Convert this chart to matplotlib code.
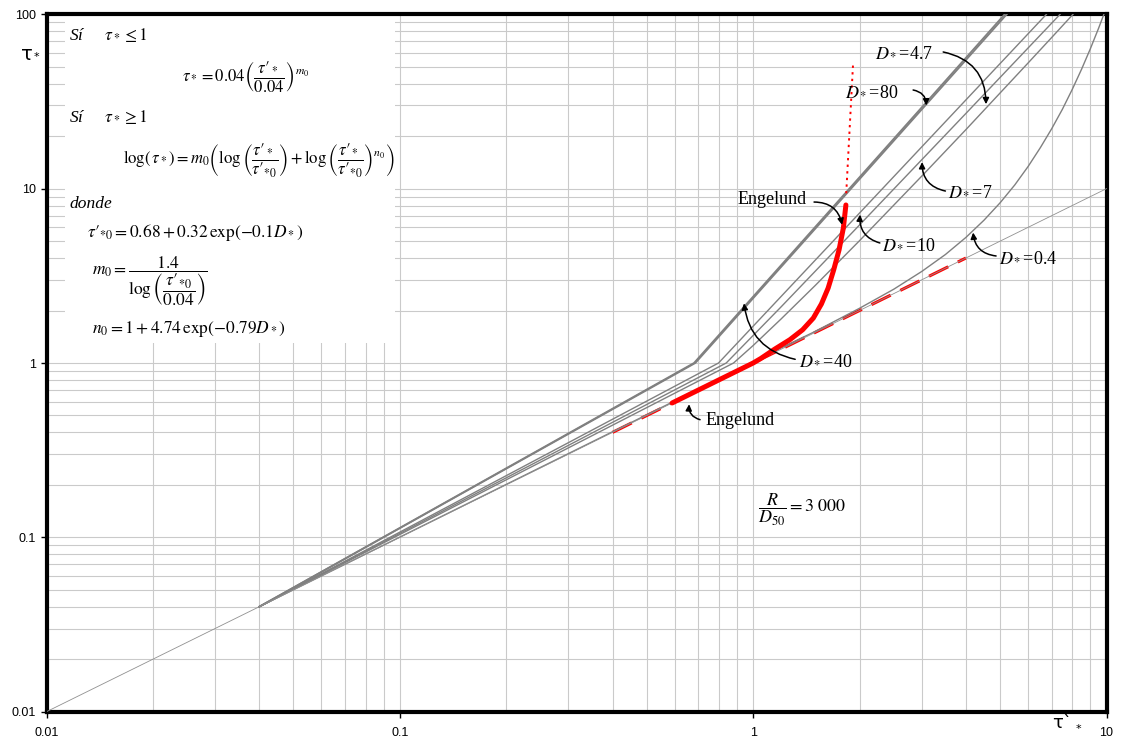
import matplotlib.pyplot as plt
from matplotlib.patches import Rectangle
from matplotlib.ticker import NullFormatter

plt.rcParams['mathtext.fontset'] = 'stix'
plt.rcParams['font.family'] = 'Liberation Serif'

# tau'_* (x) against tau_* (y) for each D_*, R/D50 = 3000
tp_d80 = [0.04, 0.680, 5.15]
ts_d80 = [0.04, 1.0, 100]
tp_d40 = [0.04, 0.686, 5.22]
ts_d40 = [0.04, 1.0, 100]
tp_d10 = [0.04, 0.798, 6.76]
ts_d10 = [0.04, 1.0, 100]
tp_d7 = [0.04, 0.839, 1.2, 2.0, 4.0, 7.39]
ts_d7 = [0.04, 1.0, 2.10, 6.19, 27.0, 100]
tp_d47 = [0.04, 0.88, 1.0, 1.2, 1.5, 2.0, 3.0, 4.0, 5.0, 6.0, 7.0, 8.04]
ts_d47 = [0.04, 1.0, 1.26, 1.79, 2.79, 5.03, 11.8, 21.8, 35.4, 52.6, 73.7, 100]
tp_d04 = [0.04, 0.988, 1.2, 1.5, 2.0, 2.5, 3.0, 3.5, 4.0, 4.5, 5.0, 5.5, 6.0,
          6.5, 7.0, 7.5, 8.0, 8.5, 9.0, 9.5, 9.83]
ts_d04 = [0.04, 1.0, 1.22, 1.52, 2.06, 2.65, 3.35, 4.19, 5.25, 6.59, 8.30, 10.5, 13.4,
          17.2, 22.1, 28.5, 37.1, 48.4, 63.4, 83.3, 100]

# tau_* = tau'_*
ident_tp = [0.01, 10]
ident_ts = [0.01, 10]

# Engelund
eng_tp = [0.59, 1.00, 1.05, 1.15, 1.27, 1.38, 1.48, 1.56, 1.63, 1.69, 1.75, 1.80, 1.83]
eng_ts = [0.59, 1.00, 1.06, 1.20, 1.36, 1.55, 1.81, 2.18, 2.69, 3.42, 4.45, 5.95, 8.06]
eng_up_tp = [0.40, 4.0]
eng_up_ts = [0.40, 4.0]
eng_dot_tp = [1.834, 1.918]
eng_dot_ts = [9.4, 52.6]

xticks = [0.01, 0.1, 1, 10]
xticklabels = ['0.01', '0.1', '1', '10']
yticks = [0.01, 0.1, 1, 10, 100]
yticklabels = ['0.01', '0.1', '1', '10', '100']

W, H = 1122, 740
fig = plt.figure(figsize=(W / 100, H / 100), dpi=100)
ax = fig.add_axes([46.5 / W, 1 - 711.7 / H, 1060 / W, 697.4 / H])
ax.set_xscale('log')
ax.set_yscale('log')
ax.set_xlim(0.01, 10)
ax.set_ylim(0.01, 100)
ax.set_axisbelow(True)
ax.grid(True, which='both', color='#cacaca', lw=0.8)

ax.set_xticks(xticks, labels=xticklabels)
ax.set_yticks(yticks, labels=yticklabels)
ax.xaxis.set_minor_formatter(NullFormatter())
ax.yaxis.set_minor_formatter(NullFormatter())
ax.tick_params(which='minor', length=0)
ax.tick_params(which='major', length=4, width=1, labelsize=9)
ax.tick_params(axis='x', pad=7)
for lab in ax.get_xticklabels() + ax.get_yticklabels():
    lab.set_family('Liberation Sans')
for sp in ax.spines.values():
    sp.set_linewidth(3)

# white panel behind the equations
ax.add_patch(Rectangle((0.0175, 0.529), 0.3113, 0.471, transform=ax.transAxes,
                       fc='white', ec='none', zorder=1))

gray = '#808080'
ax.plot(eng_up_tp, eng_up_ts, color='red', lw=2.2, dashes=(7, 3.5), zorder=3)
ax.plot(ident_tp, ident_ts, color='#909090', lw=0.6, zorder=4)
for tp, ts in [(tp_d80, ts_d80), (tp_d40, ts_d40)]:
    ax.plot(tp, ts, color=gray, lw=1.3, zorder=3)
for tp, ts in [(tp_d10, ts_d10), (tp_d7, ts_d7), (tp_d47, ts_d47), (tp_d04, ts_d04)]:
    ax.plot(tp, ts, color=gray, lw=1.0, zorder=3)
ax.plot(eng_tp, eng_ts, color='red', lw=3.6, solid_capstyle='round',
        solid_joinstyle='round', zorder=5)
ax.plot(eng_dot_tp, eng_dot_ts, color='red', lw=1.4, dashes=(1.2, 2.2), zorder=5)


def arrow(start, end, rad=-0.4):
    ax.annotate('', xy=end, xytext=start,
                arrowprops=dict(arrowstyle='-|>', connectionstyle=f'arc3,rad={rad}',
                                color='k', lw=1.1, shrinkA=0, shrinkB=0,
                                mutation_scale=9), zorder=6)


lab_kw = dict(fontsize=13, va='center', zorder=6)
ax.text(2.213, 60.0, '$D_*$=4.7', ha='left', **lab_kw)
arrow((3.45, 60.8), (4.56, 30.5))
ax.text(1.82, 36.3, '$D_*$=80', ha='left', **lab_kw)
arrow((2.836, 36.8), (3.09, 30.0))
ax.text(3.563, 9.57, '$D_*$=7', ha='left', **lab_kw)
arrow((3.50, 9.69), (3.006, 14.2))
ax.text(2.317, 4.81, '$D_*$=10', ha='left', **lab_kw)
arrow((2.283, 4.88), (2.007, 7.1))
ax.text(4.966, 4.05, '$D_*$=0.4', ha='left', **lab_kw)
arrow((4.87, 4.11), (4.193, 5.6))
ax.text(1.421, 8.61, 'Engelund', ha='right', **lab_kw)
arrow((1.487, 8.38), (1.785, 6.2))
ax.text(1.349, 1.04, '$D_*$=40', ha='left', **lab_kw)
arrow((1.315, 1.05), (0.942, 2.2), rad=-0.35)
ax.text(0.731, 0.471, 'Engelund', ha='left', **lab_kw)
arrow((0.7075, 0.473), (0.6588, 0.58))
ax.text(1.033, 0.1435, r'$\dfrac{R}{D_{50}} = 3\ 000$', ha='left', fontsize=13,
        va='center')


def ftext(px, py, s, size=12.5, **kw):
    fig.text(px / W, 1 - py / H, s, va='center', ha='left', fontsize=size, **kw)


ftext(69, 35, 'Sí     $\\tau_* \\leq 1$', style='italic')
ftext(182, 77.5, r"$\tau_* = 0.04\left(\dfrac{\tau\prime_*}{0.04}\right)^{m_0}$", size=12)
ftext(69, 117, 'Sí     $\\tau_* \\geq 1$', style='italic')
ftext(123, 161, r"$\log(\,\tau_*) = m_0\left(\log\left(\dfrac{\tau\prime_*}{\tau\prime_{*0}}\right)"
                r" + \log\left(\dfrac{\tau\prime_*}{\tau\prime_{*0}}\right)^{n_0}\right)$",
      size=12)
ftext(69, 204, 'donde', style='italic')
ftext(87, 232.5, r"$\tau\prime_{*0} = 0.68 + 0.32\,\exp(-0.1D_*)$")
ftext(92, 281, r"$m_0 = \dfrac{1.4}{\log\left(\dfrac{\tau\prime_{*0}}{0.04}\right)}$")
ftext(92, 329, r"$n_0 = 1 + 4.74\,\exp(-0.79D_*)$")

# axis titles
fig.text(27 / W, 1 - 54 / H, 'τ', family='DejaVu Sans', fontsize=14, ha='center', va='center')
fig.text(36 / W, 1 - 57 / H, '*', family='DejaVu Sans', fontsize=8, ha='center', va='center')
fig.text(1062 / W, 1 - 723 / H, 'τ`', family='DejaVu Sans', fontsize=13, ha='center', va='center')
fig.text(1078 / W, 1 - 729 / H, '*', family='DejaVu Sans', fontsize=8, ha='center', va='center')

fig.savefig('out.png', dpi=100)
